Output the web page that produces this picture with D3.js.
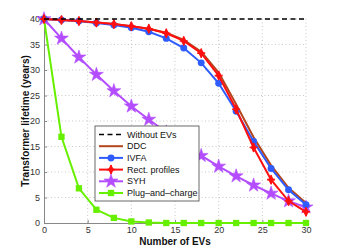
<!DOCTYPE html>
<html>
<head>
<meta charset="utf-8">
<script src="https://cdn.jsdelivr.net/npm/d3@7/dist/d3.min.js"></script>
<style>
  body { margin: 0; background: #fff; }
  svg { display: block; font-family: "Liberation Sans", Arial, sans-serif; }
</style>
</head>
<body>
<div id="chart"></div>
<script>
const evs = [0, 2, 4, 6, 8, 10, 12, 14, 16, 18, 20, 22, 24, 26, 28, 30]
const withoutEVs = [40, 40]
const ddc = [40, 39.8, 39.6, 39.3, 39.0, 38.6, 38.1, 37.3, 35.9, 33.6, 29.5, 23.3, 16.8, 11.3, 6.9, 3.9]
const ivfa = [40, 39.8, 39.6, 39.2, 38.8, 38.3, 37.5, 36.2, 34.3, 31.4, 27.4, 21.9, 16.0, 10.7, 6.5, 3.6]
const rect = [40, 39.8, 39.6, 39.3, 39.0, 38.6, 38.1, 37.2, 35.7, 33.3, 28.9, 22.3, 14.8, 8.5, 4.3, 2.2]
const syh = [40, 36.2, 32.5, 29.1, 25.9, 22.9, 20.3, 17.8, 15.4, 13.2, 11.1, 9.2, 7.4, 5.8, 4.3, 3.1]
const plug = [40, 16.9, 6.8, 2.6, 1.0, 0.3, 0.1, 0, 0, 0, 0, 0, 0, 0, 0, 0]
const xTicks = [0, 5, 10, 15, 20, 25, 30]
const yTicks = [0, 5, 10, 15, 20, 25, 30, 35, 40]

const W = 339, H = 251
const margin = { top: 19, right: 33, bottom: 28, left: 44 }

const svg = d3.select('#chart').append('svg').attr('width', W).attr('height', H)

const x = d3.scaleLinear().domain([0, 30]).range([margin.left, W - margin.right])
const y = d3.scaleLinear().domain([0, 40]).range([H - margin.bottom, margin.top])

// dotted grid
svg.append('g').selectAll('line').data(xTicks.slice(1)).join('line')
  .attr('x1', d => x(d)).attr('x2', d => x(d))
  .attr('y1', y(0)).attr('y2', y(40))
  .attr('stroke', '#bbb').attr('stroke-width', 0.8).attr('stroke-dasharray', '1,2.5')
svg.append('g').selectAll('line').data(yTicks.slice(1)).join('line')
  .attr('x1', x(0)).attr('x2', x(30))
  .attr('y1', d => y(d)).attr('y2', d => y(d))
  .attr('stroke', '#bbb').attr('stroke-width', 0.8).attr('stroke-dasharray', '1,2.5')

// axes
const xAxis = svg.append('g').attr('transform', `translate(0,${y(0)})`)
  .call(d3.axisBottom(x).tickValues(xTicks).tickSize(-3).tickPadding(4).tickSizeOuter(0))
const yAxis = svg.append('g').attr('transform', `translate(${x(0)},0)`)
  .call(d3.axisLeft(y).tickValues(yTicks).tickSize(-3).tickPadding(4).tickSizeOuter(0))
;[xAxis, yAxis].forEach(a => {
  a.select('.domain').attr('stroke', '#888').attr('stroke-width', 1)
  a.selectAll('.tick line').attr('stroke', '#888')
  a.selectAll('.tick text').attr('fill', '#333').style('font-size', '9px')
})

svg.append('text').attr('x', x(15)).attr('y', H - 6)
  .attr('text-anchor', 'middle').attr('font-weight', 'bold').style('font-size', '10px')
  .attr('fill', '#111').text('Number of EVs')
svg.append('text').attr('transform', `translate(29,${y(20)}) rotate(-90)`)
  .attr('text-anchor', 'middle').attr('font-weight', 'bold').style('font-size', '10px')
  .attr('fill', '#111').text('Transformer lifetime (years)')

const line = d3.line().x(d => x(d[0])).y(d => y(d[1]))

const star = d3.symbol().type(d3.symbolStar).size(60)
const sq = d3.symbol().type(d3.symbolSquare).size(40)
const circ = d3.symbol().type(d3.symbolCircle).size(38)
const diam = d3.symbol().type(d3.symbolDiamond).size(30)

const series = [
  { name: 'Without EVs', color: '#000', data: [[0, withoutEVs[0]], [30, withoutEVs[1]]], dash: '5,3.5', marker: null },
  { name: 'DDC', color: '#b5461c', data: evs.map((e, i) => [e, ddc[i]]), marker: null },
  { name: 'IVFA', color: '#2f5cff', data: evs.map((e, i) => [e, ivfa[i]]), marker: 'circle' },
  { name: 'Rect. profiles', color: '#ff1010', data: evs.map((e, i) => [e, rect[i]]), marker: 'rect' },
  { name: 'SYH', color: '#b34dff', data: evs.map((e, i) => [e, syh[i]]), marker: 'star' },
  { name: 'Plug\u2013and\u2013charge', color: '#66f000', data: evs.map((e, i) => [e, plug[i]]), marker: 'square' }
]

function drawMarker(g, type, color) {
  if (type === 'circle') g.append('path').attr('d', circ()).attr('fill', color)
  if (type === 'square') g.append('path').attr('d', sq()).attr('fill', color)
  if (type === 'star') g.append('path').attr('d', star()).attr('fill', color).attr('stroke', color).attr('stroke-width', 0.6)
  if (type === 'rect') {
    g.append('path').attr('d', diam()).attr('fill', color)
    g.append('path').attr('d', 'M-4,0H4M0,-4.5V4.5').attr('stroke', color).attr('stroke-width', 1.6)
  }
}

// draw order: last series underneath, first on top
const order = [5, 4, 1, 2, 3, 0]
order.forEach(i => {
  const s = series[i]
  svg.append('path').datum(s.data).attr('d', line)
    .attr('fill', 'none').attr('stroke', s.color)
    .attr('stroke-width', s.dash ? 1.6 : 2)
    .attr('stroke-dasharray', s.dash || null)
  if (s.marker) {
    s.data.forEach(p => {
      const g = svg.append('g').attr('transform', `translate(${x(p[0])},${y(p[1])})`)
      drawMarker(g, s.marker, s.color)
    })
  }
})

// legend
const lg = svg.append('g').attr('transform', 'translate(95,126)')
lg.append('rect').attr('width', 104).attr('height', 75)
  .attr('fill', '#fff').attr('stroke', '#444').attr('stroke-width', 0.8)
series.forEach((s, i) => {
  const yy = 8.5 + i * 11.7
  lg.append('line').attr('x1', 4).attr('x2', 28).attr('y1', yy).attr('y2', yy)
    .attr('stroke', s.color).attr('stroke-width', s.dash ? 1.6 : 2)
    .attr('stroke-dasharray', s.dash || null)
  if (s.marker) drawMarker(lg.append('g').attr('transform', `translate(16,${yy})`), s.marker, s.color)
  lg.append('text').attr('x', 32).attr('y', yy).attr('dy', '0.35em')
    .style('font-size', '9px').attr('fill', '#111').text(s.name)
})
</script>
</body>
</html>
